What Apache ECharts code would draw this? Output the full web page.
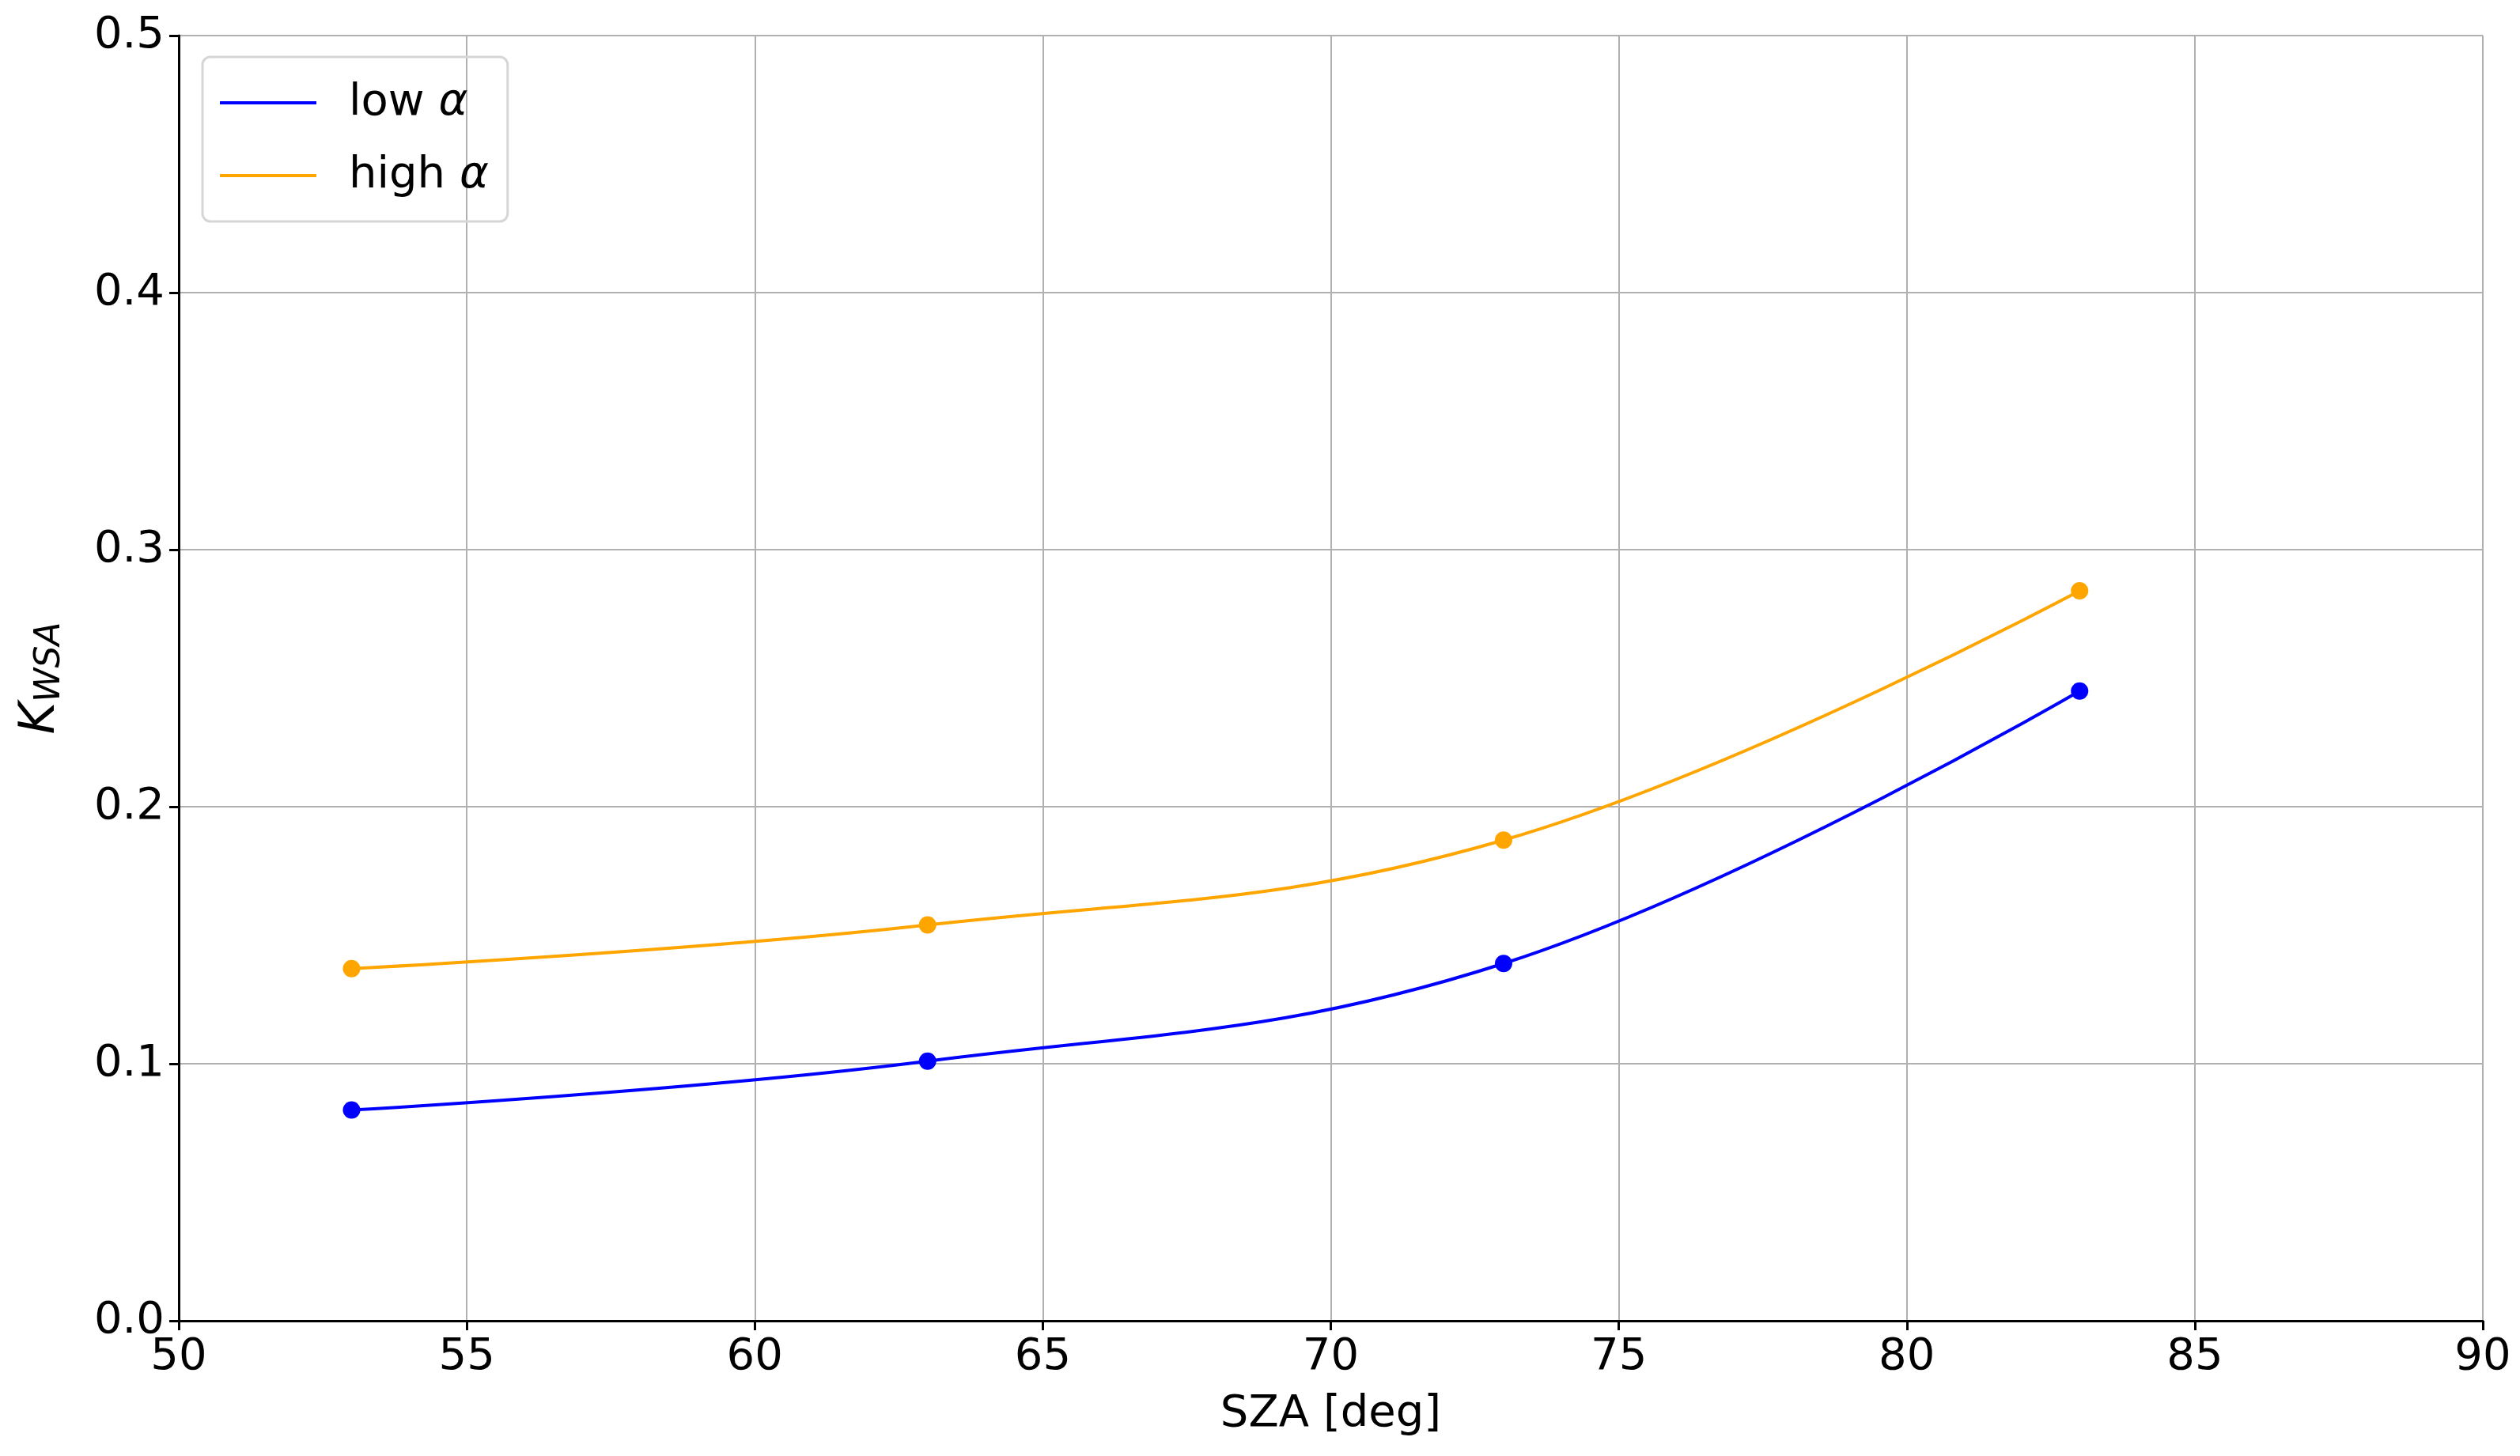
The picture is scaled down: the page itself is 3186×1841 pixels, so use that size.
<!DOCTYPE html>
<html>
<head>
<meta charset="utf-8">
<script src="https://cdn.jsdelivr.net/npm/echarts@6/dist/echarts.min.js"></script>
<style>html,body{margin:0;background:#fff}</style>
</head>
<body>
<div id="main" style="width:3186px;height:1841px"></div>
<script>
// SZA values and K_WSA
var sza = [53, 63, 73, 83];
var lowAlpha = [0.082, 0.101, 0.139, 0.245];
var highAlpha = [0.137, 0.154, 0.187, 0.284];

function pairs(xs, ys) { return xs.map(function (x, i) { return [x, ys[i]]; }); }

var font = 'DejaVu Sans';
var chart = echarts.init(document.getElementById('main'));
chart.setOption({
    animation: false,
    textStyle: { fontFamily: font },
    grid: { left: 226, right: 47, top: 45, bottom: 171 },
    legend: {
        left: 256, top: 72, orient: 'vertical',
        itemWidth: 122, itemHeight: 4, itemGap: 36,
        padding: [30, 24, 30, 22],
        borderColor: '#d6d6d6', borderWidth: 3, borderRadius: 10,
        icon: 'rect',
        textStyle: {
            fontSize: 56, color: '#000', padding: [0, 0, 0, 36],
            rich: { a: { fontSize: 56, fontStyle: 'italic', fontFamily: font } }
        },
        formatter: function (n) { return n === 'low' ? 'low {a|α}' : 'high {a|α}'; },
        data: ['low', 'high']
    },
    xAxis: {
        type: 'value', min: 50, max: 90, interval: 5,
        name: 'SZA [deg]', nameLocation: 'middle', nameGap: 90,
        nameTextStyle: { fontSize: 56, color: '#000' },
        axisLine: { onZero: false, lineStyle: { color: '#000', width: 3 } },
        axisTick: { show: true, length: 12, lineStyle: { color: '#000', width: 3 } },
        axisLabel: { fontSize: 56, color: '#000', margin: 18 },
        splitLine: { show: true, lineStyle: { color: '#b0b0b0', width: 2 } }
    },
    yAxis: {
        type: 'value', min: 0, max: 0.5, interval: 0.1,
        name: '{k|K}{s|WSA}', nameLocation: 'middle', nameGap: 140,
        nameTextStyle: {
            rich: {
                k: { fontSize: 62, fontStyle: 'italic', color: '#000', fontFamily: font },
                s: { fontSize: 44, fontStyle: 'italic', color: '#000', fontFamily: font, verticalAlign: 'bottom', padding: [24, 0, 0, 0] }
            }
        },
        axisLine: { show: true, lineStyle: { color: '#000', width: 3 } },
        axisTick: { show: true, length: 12, lineStyle: { color: '#000', width: 3 } },
        axisLabel: { fontSize: 56, color: '#000', margin: 18, formatter: function (v) { return v.toFixed(1); } },
        splitLine: { show: true, lineStyle: { color: '#b0b0b0', width: 2 } }
    },
    series: [
        { name: 'low', type: 'line', smooth: 0.4, data: pairs(sza, lowAlpha),
          color: '#0000ff', lineStyle: { width: 4 }, symbol: 'circle', symbolSize: 22 },
        { name: 'high', type: 'line', smooth: 0.4, data: pairs(sza, highAlpha),
          color: '#ffa500', lineStyle: { width: 4 }, symbol: 'circle', symbolSize: 22 }
    ]
});
</script>
</body>
</html>
